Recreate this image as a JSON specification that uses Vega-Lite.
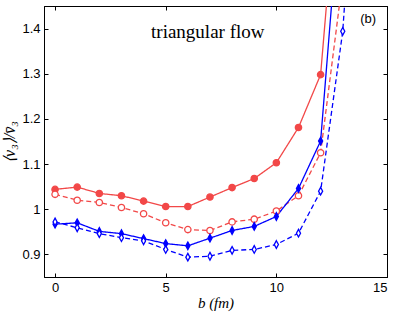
{
  "$schema": "https://vega.github.io/schema/vega-lite/v6.json",
  "width": 343,
  "height": 271,
  "autosize": "none",
  "padding": {"left": 44, "top": 6, "right": 12, "bottom": 37},
  "background": "white",
  "config": {
    "view": {"stroke": "black", "strokeWidth": 1},
    "axis": {"grid": false, "domainColor": "black", "tickColor": "black", "labelColor": "black", "labelFont": "Liberation Sans", "labelFontSize": 13, "titleColor": "black", "tickSize": -4, "labelPadding": 8}
  },
  "datasets": {
    "pts": [
      {"b": 0, "v": 1.044, "s": "rf"}, {"b": 1, "v": 1.049, "s": "rf"}, {"b": 2, "v": 1.035, "s": "rf"}, {"b": 3, "v": 1.030, "s": "rf"}, {"b": 4, "v": 1.018, "s": "rf"}, {"b": 5, "v": 1.006, "s": "rf"}, {"b": 6, "v": 1.006, "s": "rf"}, {"b": 7, "v": 1.027, "s": "rf"}, {"b": 8, "v": 1.048, "s": "rf"}, {"b": 9, "v": 1.068, "s": "rf"}, {"b": 10, "v": 1.103, "s": "rf"}, {"b": 11, "v": 1.181, "s": "rf"}, {"b": 12, "v": 1.298, "s": "rf"}, {"b": 13, "v": 1.88, "s": "rf"},
      {"b": 0, "v": 1.033, "s": "ro"}, {"b": 1, "v": 1.020, "s": "ro"}, {"b": 2, "v": 1.015, "s": "ro"}, {"b": 3, "v": 1.004, "s": "ro"}, {"b": 4, "v": 0.990, "s": "ro"}, {"b": 5, "v": 0.970, "s": "ro"}, {"b": 6, "v": 0.955, "s": "ro"}, {"b": 7, "v": 0.953, "s": "ro"}, {"b": 8, "v": 0.972, "s": "ro"}, {"b": 9, "v": 0.978, "s": "ro"}, {"b": 10, "v": 0.996, "s": "ro"}, {"b": 11, "v": 1.030, "s": "ro"}, {"b": 12, "v": 1.125, "s": "ro"}, {"b": 13, "v": 1.51, "s": "ro"},
      {"b": 0, "v": 0.967, "s": "bf"}, {"b": 1, "v": 0.970, "s": "bf"}, {"b": 2, "v": 0.951, "s": "bf"}, {"b": 3, "v": 0.946, "s": "bf"}, {"b": 4, "v": 0.935, "s": "bf"}, {"b": 5, "v": 0.924, "s": "bf"}, {"b": 6, "v": 0.919, "s": "bf"}, {"b": 7, "v": 0.936, "s": "bf"}, {"b": 8, "v": 0.953, "s": "bf"}, {"b": 9, "v": 0.962, "s": "bf"}, {"b": 10, "v": 0.984, "s": "bf"}, {"b": 11, "v": 1.046, "s": "bf"}, {"b": 12, "v": 1.151, "s": "bf"}, {"b": 13, "v": 1.76, "s": "bf"},
      {"b": 0, "v": 0.972, "s": "bo"}, {"b": 1, "v": 0.959, "s": "bo"}, {"b": 2, "v": 0.946, "s": "bo"}, {"b": 3, "v": 0.937, "s": "bo"}, {"b": 4, "v": 0.930, "s": "bo"}, {"b": 5, "v": 0.911, "s": "bo"}, {"b": 6, "v": 0.894, "s": "bo"}, {"b": 7, "v": 0.896, "s": "bo"}, {"b": 8, "v": 0.909, "s": "bo"}, {"b": 9, "v": 0.911, "s": "bo"}, {"b": 10, "v": 0.922, "s": "bo"}, {"b": 11, "v": 0.947, "s": "bo"}, {"b": 12, "v": 1.040, "s": "bo"}, {"b": 13, "v": 1.394, "s": "bo"}, {"b": 14, "v": 2.1, "s": "bo"}
    ],
    "labels": [
      {"b": 6.9, "v": 1.393, "t": "triangular flow", "k": "title"},
      {"b": 14.15, "v": 1.421, "t": "(b)", "k": "panel"}
    ]
  },
  "layer": [
    {
      "data": {"name": "pts"},
      "mark": {"type": "line", "clip": true, "strokeWidth": 1.3},
      "encoding": {
        "x": {"field": "b", "type": "quantitative", "scale": {"domain": [-0.5, 15], "nice": false, "zero": false}, "axis": {"values": [0, 5, 10, 15], "title": "b (fm)", "titleFont": "Liberation Serif", "titleFontStyle": "italic", "titleFontWeight": "normal", "titleFontSize": 15, "titlePadding": 1}},
        "y": {"field": "v", "type": "quantitative", "scale": {"domain": [0.85, 1.45], "nice": false, "zero": false}, "axis": {"values": [0.9, 1, 1.1, 1.2, 1.3, 1.4], "labelExpr": "datum.value == 1 ? '1' : format(datum.value, '.1f')", "title": "⟨v₃⟩/v̄₃", "titleFont": "Liberation Serif", "titleFontStyle": "italic", "titleFontWeight": "normal", "titleFontSize": 16, "titlePadding": 4}},
        "stroke": {"field": "s", "type": "nominal", "scale": {"domain": ["rf", "ro", "bf", "bo"], "range": ["#f24848", "#f24848", "#0000ff", "#0000ff"]}, "legend": null},
        "strokeDash": {"field": "s", "type": "nominal", "scale": {"domain": ["rf", "ro", "bf", "bo"], "range": [[1, 0], [5, 3], [1, 0], [5, 3]]}, "legend": null}
      }
    },
    {
      "data": {"name": "pts"},
      "mark": {"type": "point", "clip": true, "filled": true, "strokeWidth": 1.3, "size": 40, "opacity": 1},
      "encoding": {
        "x": {"field": "b", "type": "quantitative", "axis": {"orient": "top", "values": [0, 5, 10, 15], "labels": false, "title": null}},
        "y": {"field": "v", "type": "quantitative", "axis": {"orient": "right", "values": [0.9, 1, 1.1, 1.2, 1.3, 1.4], "labels": false, "title": null}},
        "stroke": {"field": "s", "type": "nominal", "legend": null},
        "fill": {"field": "s", "type": "nominal", "scale": {"domain": ["rf", "ro", "bf", "bo"], "range": ["#f24848", "white", "#0000ff", "white"]}, "legend": null},
        "shape": {"field": "s", "type": "nominal", "scale": {"domain": ["rf", "ro", "bf", "bo"], "range": ["circle", "circle", "M0,-1.2L0.65,0L0,1.2L-0.65,0Z", "M0,-1.2L0.65,0L0,1.2L-0.65,0Z"]}, "legend": null}
      }
    },
    {
      "data": {"name": "labels"},
      "transform": [{"filter": "datum.k == 'title'"}],
      "mark": {"type": "text", "font": "Liberation Serif", "fontSize": 19, "color": "black"},
      "encoding": {"x": {"field": "b", "type": "quantitative", "axis": null}, "y": {"field": "v", "type": "quantitative", "axis": null}, "text": {"field": "t"}}
    },
    {
      "data": {"name": "labels"},
      "transform": [{"filter": "datum.k == 'panel'"}],
      "mark": {"type": "text", "font": "Liberation Sans", "fontSize": 13, "color": "black"},
      "encoding": {"x": {"field": "b", "type": "quantitative", "axis": null}, "y": {"field": "v", "type": "quantitative", "axis": null}, "text": {"field": "t"}}
    }
  ],
  "resolve": {"axis": {"x": "independent", "y": "independent"}}
}
